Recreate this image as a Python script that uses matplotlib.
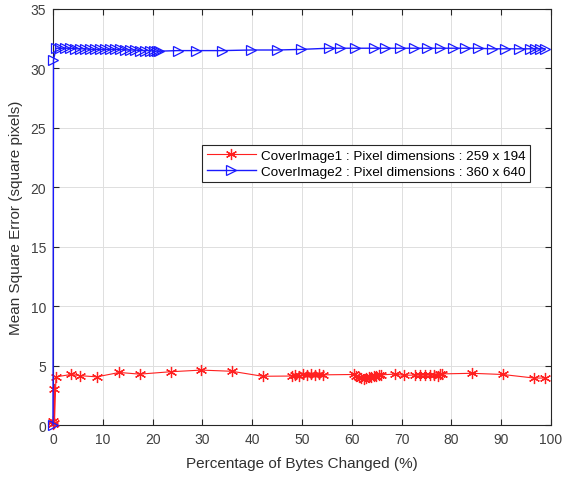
import matplotlib
matplotlib.use("Agg")
import matplotlib.pyplot as plt

plt.rcParams['font.family'] = ['Liberation Sans', 'DejaVu Sans']

x_red = [0.0, 0.1, 0.2, 0.3, 0.6, 3.6, 5.5, 8.8, 13.3, 17.4, 23.6, 29.8, 35.9, 42.1,
         48.0, 48.6, 49.4, 50.2, 51.0, 51.8, 52.6, 53.4, 54.2,
         60.4, 60.9, 61.4, 61.9, 62.4, 62.9, 63.4, 63.9, 64.4, 64.9, 65.4, 65.9,
         68.7, 70.4, 72.7, 73.7, 74.7, 75.7, 76.5, 77.3, 77.8, 78.2,
         84.1, 90.3, 96.6, 98.8]
y_red = [0.1, 0.3, 3.0, 0.2, 4.05, 4.25, 4.15, 4.05, 4.42, 4.28, 4.48, 4.62, 4.52, 4.1,
         4.12, 4.2, 4.15, 4.25, 4.2, 4.3, 4.2, 4.25, 4.22,
         4.25, 4.1, 4.0, 3.92, 3.9, 3.95, 4.0, 4.05, 4.1, 4.15, 4.2, 4.22,
         4.28, 4.18, 4.2, 4.2, 4.2, 4.2, 4.2, 4.15, 4.25, 4.3,
         4.35, 4.25, 3.95, 3.95]

x_blue = [0.0, 0.1, 0.6, 1.5, 2.5, 3.5, 4.5, 5.5, 6.5, 7.5, 8.5, 9.5, 10.5, 11.5, 12.5,
          13.5, 14.5, 15.5, 16.5, 17.5, 18.5, 19.5, 20.3, 20.8, 21.3,
          25.0, 28.7, 34.0, 39.7, 45.0, 49.7, 55.4, 57.7, 60.7, 64.4, 66.7, 69.7,
          72.4, 75.0, 77.7, 80.4, 82.8, 85.4, 88.1, 90.8, 93.5, 95.8, 96.8, 97.8, 98.8]
y_blue = [0.0, 30.7, 31.7, 31.7, 31.7, 31.7, 31.65, 31.65, 31.65, 31.6, 31.6, 31.6, 31.6, 31.6, 31.6,
          31.6, 31.55, 31.55, 31.55, 31.5, 31.5, 31.5, 31.45, 31.45, 31.45,
          31.5, 31.5, 31.5, 31.55, 31.55, 31.6, 31.7, 31.7, 31.7, 31.7, 31.7, 31.7,
          31.7, 31.7, 31.7, 31.7, 31.7, 31.7, 31.65, 31.65, 31.65, 31.65, 31.65, 31.65, 31.65]

labels = ['CoverImage1 : Pixel dimensions : 259 x 194',
          'CoverImage2 : Pixel dimensions : 360 x 640']

fig = plt.figure(figsize=(5.65, 4.81), dpi=100)
ax = fig.add_axes([53/565, 1 - 426/481, (551-53)/565, (426-10)/481])

ax.plot(x_red, y_red, color='#ff2020', marker=(6, 2, 0), markersize=8, linewidth=0.8,
        markeredgewidth=0.9, label=labels[0], clip_on=False, zorder=3)
ax.plot(x_blue, y_blue, color='#1a1aff', marker='>', markersize=6.5, linewidth=1.0,
        markerfacecolor='none', markeredgewidth=0.9, label=labels[1], clip_on=False, zorder=4)

ax.set_xlim(0, 100)
ax.set_ylim(0, 35)
ax.set_xticks(range(0, 101, 10))
ax.set_yticks(range(0, 36, 5))
ax.grid(True, color='#dedede', linewidth=0.7)
ax.set_axisbelow(True)
ax.tick_params(direction='in', labelsize=10, labelcolor='#404040', colors='#262626', length=4,
               top=True, right=True, labeltop=False, labelright=False, pad=5)
for s in ax.spines.values():
    s.set_color('#262626')
    s.set_linewidth(0.8)

ax.set_xlabel('Percentage of Bytes Changed (%)', fontsize=11, color='#303030', labelpad=7)
ax.set_ylabel('Mean Square Error (square pixels)', fontsize=11, color='#303030', labelpad=5)

leg = ax.legend(loc='upper right', bbox_to_anchor=(0.972, 0.69), fontsize=9.7,
                fancybox=False, framealpha=1, edgecolor='#262626', borderpad=0.35,
                handlelength=3.6, labelspacing=0.25, handletextpad=0.4)
leg.get_frame().set_linewidth(0.8)

fig.savefig('out.png', dpi=100)
